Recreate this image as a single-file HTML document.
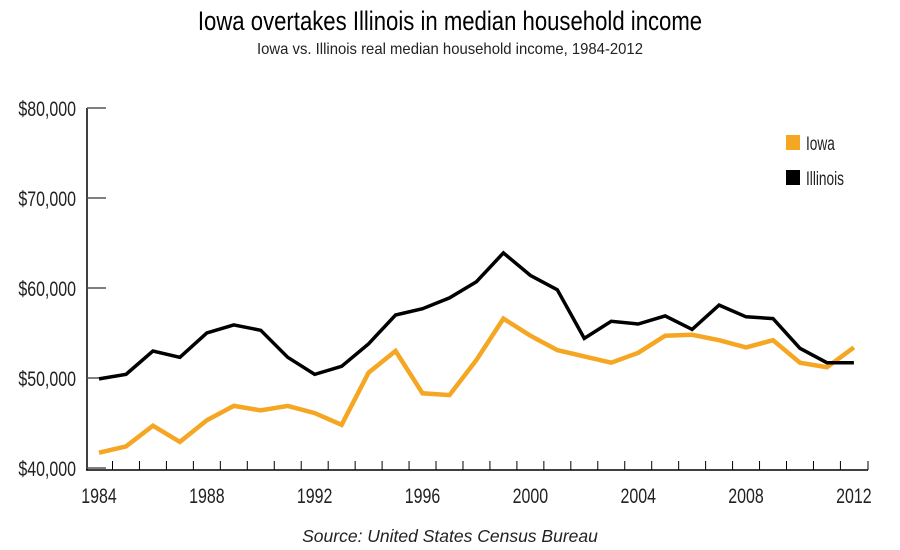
<!DOCTYPE html>
<html><head><meta charset="utf-8"><style>
body{margin:0;background:#fff;}
svg{display:block;font-family:"Liberation Sans",sans-serif;}
</style></head><body>
<svg id="c" width="900" height="550">
<text x="450" y="30" text-anchor="middle" font-size="27" fill="#000" transform="translate(450,0) scale(0.82,1) translate(-450,0)">Iowa overtakes Illinois in median household income</text>
<text x="450" y="54" text-anchor="middle" font-size="16" fill="#222" transform="translate(450,0) scale(0.93,1) translate(-450,0)">Iowa vs. Illinois real median household income, 1984-2012</text>
<text x="450" y="542" text-anchor="middle" font-size="17.5" font-style="italic" fill="#222">Source: United States Census Bureau</text>
<g id="axes"></g><g id="lines"></g>
<rect x="786" y="135" width="14" height="15" fill="#f5a623"/>
<text x="806" y="150" font-size="19" fill="#222" transform="translate(806,0) scale(0.72,1) translate(-806,0)">Iowa</text>
<rect x="786" y="170" width="14" height="15" fill="#000"/>
<text x="806" y="185" font-size="19" fill="#222" transform="translate(806,0) scale(0.72,1) translate(-806,0)">Illinois</text>
</svg>
<script>
const years=[1984,1985,1986,1987,1988,1989,1990,1991,1992,1993,1994,1995,1996,1997,1998,1999,2000,2001,2002,2003,2004,2005,2006,2007,2008,2009,2010,2011,2012];
const illinois=[49900,50400,53000,52300,55000,55900,55300,52300,50400,51300,53800,57000,57700,58900,60700,63900,61400,59800,54400,56300,56000,56900,55400,58100,56800,56600,53300,51700,51700];
const iowa=[41700,42400,44700,42900,45300,46900,46400,46900,46100,44800,50600,53000,48300,48100,52000,56600,54700,53100,52400,51700,52800,54700,54800,54200,53400,54200,51700,51200,53400];
const yTicks=[40000,50000,60000,70000,80000];
const xLabels=[1984,1988,1992,1996,2000,2004,2008,2012];
const NS="http://www.w3.org/2000/svg";
const x=yr=>99+(yr-1984)*26.96;
const yv=v=>468-(v-40000)*0.009;
function mk(t,a,p){const e=document.createElementNS(NS,t);for(const k in a)e.setAttribute(k,a[k]);p.appendChild(e);return e;}
function sx(px,s){return 'translate('+px+',0) scale('+s+',1) translate('+(-px)+',0)';}
const ax=document.getElementById('axes'),ln=document.getElementById('lines');
let e=mk('line',{x1:87,y1:108,x2:87,y2:470,stroke:'#000','stroke-width':1.5},ax);


e=mk('line',{x1:86,y1:470,x2:868,y2:470,stroke:'#000','stroke-width':1.5},ax);


yTicks.forEach(v=>{
 const t=mk('line',{x1:87,y1:yv(v),x2:106,y2:yv(v),stroke:'#555','stroke-width':1.5},ax);
 
 
 const l=mk('text',{x:76,y:yv(v)+8,'text-anchor':'end','font-size':21,fill:'#222',transform:sx(76,0.76)},ax);
 l.textContent='$'+(v/1000)+',000';
 
 
});
years.slice(0,-1).forEach(yr=>{
 const t=mk('line',{x1:x(yr)+13.5,y1:461,x2:x(yr)+13.5,y2:470,stroke:'#000','stroke-width':1},ax);
 
 
});
mk('line',{x1:868,y1:461,x2:868,y2:470,stroke:'#000'},ax);
xLabels.forEach(yr=>{
 const l=mk('text',{x:x(yr),y:503,'text-anchor':'middle','font-size':21,fill:'#222',transform:sx(x(yr),0.76)},ax);
 l.textContent=yr;
 
 
});
function line(vals,col,w,name){
 const p=mk('polyline',{points:vals.map((v,i)=>x(years[i])+','+yv(v)).join(' '),fill:'none',stroke:col,'stroke-width':w,'stroke-linejoin':'miter'},ln);
 
 
}
line(iowa,'#f5a623',4.5,'iowa-line');
line(illinois,'#000',3.5,'illinois-line');
</script>
</body></html>
